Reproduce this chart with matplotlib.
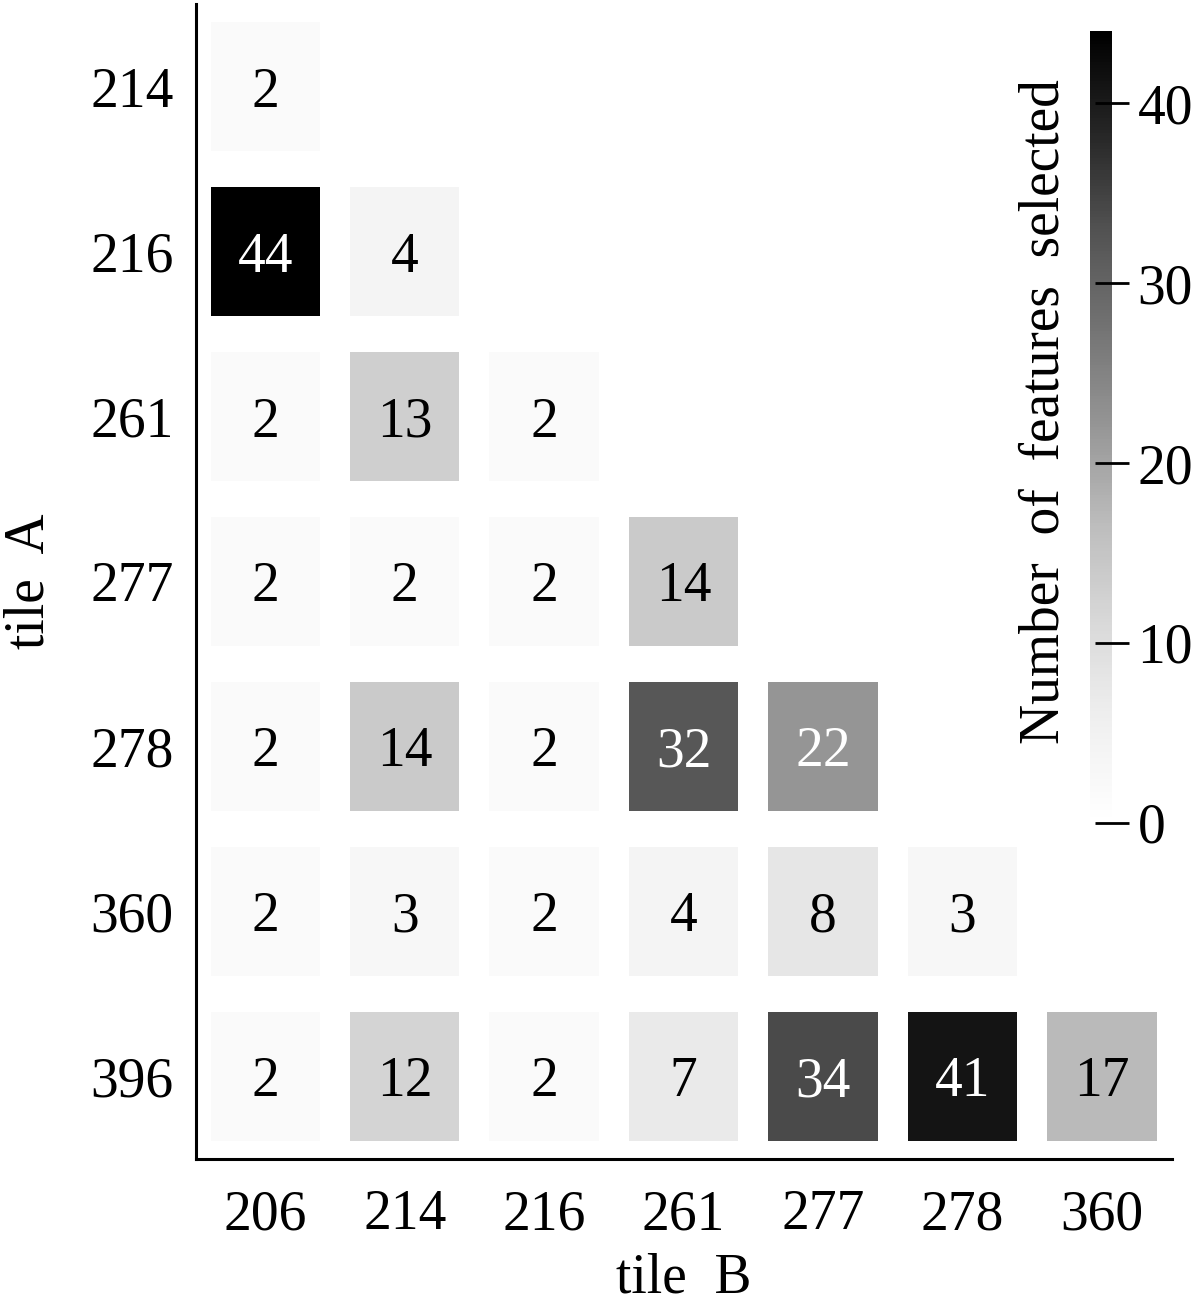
import matplotlib
matplotlib.use("Agg")
import matplotlib.pyplot as plt
from matplotlib.patches import Rectangle
from matplotlib.collections import PatchCollection
import numpy as np

plt.rcParams['font.family'] = ['Liberation Serif', 'DejaVu Serif']

tile_a = ['214', '216', '261', '277', '278', '360', '396']
tile_b = ['206', '214', '216', '261', '277', '278', '360']
values = [
    [2, None, None, None, None, None, None],
    [44, 4, None, None, None, None, None],
    [2, 13, 2, None, None, None, None],
    [2, 2, 2, 14, None, None, None],
    [2, 14, 2, 32, 22, None, None],
    [2, 3, 2, 4, 8, 3, None],
    [2, 12, 2, 7, 34, 41, 17],
]
cbar_label = 'Number  of  features  selected'
cbar_ticks = [0, 10, 20, 30, 40]


def rel_lum(rgba):
    c = np.array(rgba[:3])
    c = np.where(c <= 0.03928, c / 12.92, ((c + 0.055) / 1.055) ** 2.4)
    return float(np.dot(c, [0.2126, 0.7152, 0.0722]))


FS = 40
fig = plt.figure(figsize=(12, 13.06), dpi=100)
ax = fig.add_axes([0.163, 0.1126, 0.8133, 0.8843])

cmap = plt.get_cmap('Greys')
norm = matplotlib.colors.Normalize(vmin=0, vmax=44)
size = 0.785
rects, vals = [], []
nrow = len(tile_a)
for i, row in enumerate(values):
    for j, v in enumerate(row):
        if v is None:
            continue
        y = nrow - 1 - i
        rects.append(Rectangle((j - size / 2, y - size / 2), size, size))
        vals.append(v)
        lum = rel_lum(cmap(norm(v)))
        ax.text(j, y, str(v), ha='center', va='center_baseline', fontsize=FS,
                color='black' if lum > 0.408 else 'white')
pc = PatchCollection(rects, cmap=cmap, norm=norm, edgecolor='none')
pc.set_array(np.array(vals, dtype=float))
ax.add_collection(pc)

ax.set_xlim(-0.5, len(tile_b) - 0.5)
ax.set_ylim(-0.5, nrow - 0.5)
ax.set_xticks(range(len(tile_b)))
ax.set_xticklabels(tile_b)
ax.set_yticks(range(nrow))
ax.set_yticklabels(tile_a[::-1])
ax.tick_params(length=0, labelsize=FS)
ax.tick_params(axis='x', pad=22)
ax.tick_params(axis='y', pad=16)
for s in ['top', 'right']:
    ax.spines[s].set_visible(False)
for s in ['left', 'bottom']:
    ax.spines[s].set_linewidth(2.2)
ax.set_xlabel('tile  B', fontsize=FS, labelpad=8)
ax.set_ylabel('tile  A', fontsize=FS, labelpad=25)

cax = fig.add_axes([0.908, 0.370, 0.019, 0.606])
cb = fig.colorbar(pc, cax=cax, ticks=cbar_ticks)
cb.outline.set_visible(False)
cax.tick_params(labelsize=FS, direction='inout', length=24, width=2, pad=6)
cax.yaxis.set_label_position('left')
cb.set_label(cbar_label, fontsize=FS, labelpad=14, y=0.52)

fig.savefig('out.png', dpi=100)
